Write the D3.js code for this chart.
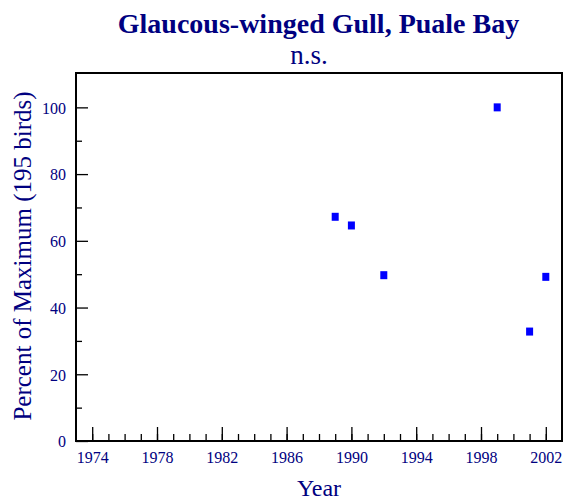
<!DOCTYPE html>
<html>
<head>
<meta charset="utf-8">
<script src="https://cdn.jsdelivr.net/npm/d3@7/dist/d3.min.js"></script>
<style>
  html, body { margin: 0; padding: 0; background: #fff; }
  svg { display: block; }
  text { font-family: "Liberation Serif", "Times New Roman", serif; fill: #000080; }
</style>
</head>
<body>
<svg id="chart" width="571" height="500"></svg>
<script>
// Survey counts, as percent of the maximum count (195 birds)
const years = [1989, 1990, 1992, 1999, 2001, 2002];
const percents = [67.2, 64.6, 49.7, 100, 32.8, 49.2];

const xMajorTicks = [1974, 1978, 1982, 1986, 1990, 1994, 1998, 2002];
const yMajorTicks = [0, 20, 40, 60, 80, 100];

const titleText = "Glaucous-winged Gull, Puale Bay";
const subtitleText = "n.s.";
const xLabel = "Year";
const yLabel = "Percent of Maximum (195 birds)";

const svg = d3.select("#chart");
const plot = { left: 76, right: 562, top: 74, bottom: 441 };

const x = d3.scaleLinear().domain([1973, 2003]).range([plot.left, plot.right]);
const y = d3.scaleLinear().domain([0, 110]).range([plot.bottom, plot.top]);

// Bottom axis: yearly minor ticks, labelled majors every four years (ticks point inward)
const xMinor = d3.range(1974, 2003);
svg.append("g")
  .attr("transform", `translate(0,${plot.bottom})`)
  .call(d3.axisBottom(x).tickValues(xMinor).tickSize(-7).tickFormat(""))
  .call(g => g.select(".domain").remove())
  .call(g => g.selectAll("line").attr("stroke", "#000").attr("stroke-width", 1.3));
const xAxis = svg.append("g")
  .attr("transform", `translate(0,${plot.bottom})`)
  .call(d3.axisBottom(x).tickValues(xMajorTicks).tickSize(-14).tickPadding(0).tickFormat(d3.format("d")))
  .call(g => g.select(".domain").remove());
xAxis.selectAll("line").attr("stroke", "#000").attr("stroke-width", 1.3);
xAxis.selectAll("text")
  .attr("y", 22).attr("dy", 0)
  .style("font-size", "16px").style("fill", "#000080")
  .style("font-family", "Liberation Serif, serif");

// Left axis: minor ticks every 10, labelled majors every 20
const yMinor = d3.range(10, 110, 20);
svg.append("g")
  .attr("transform", `translate(${plot.left},0)`)
  .call(d3.axisLeft(y).tickValues(yMinor).tickSize(-6).tickFormat(""))
  .call(g => g.select(".domain").remove())
  .call(g => g.selectAll("line").attr("stroke", "#000").attr("stroke-width", 1.3));
const yAxis = svg.append("g")
  .attr("transform", `translate(${plot.left},0)`)
  .call(d3.axisLeft(y).tickValues(yMajorTicks).tickSize(-12).tickPadding(0).tickFormat(d3.format("d")))
  .call(g => g.select(".domain").remove());
yAxis.selectAll("line").attr("stroke", "#000").attr("stroke-width", 1.3);
yAxis.selectAll("text")
  .attr("x", -10).attr("dy", "0.36em")
  .style("font-size", "16px").style("fill", "#000080")
  .style("font-family", "Liberation Serif, serif");

// Plot frame
svg.append("rect")
  .attr("x", plot.left).attr("y", plot.top - 1)
  .attr("width", plot.right - plot.left).attr("height", plot.bottom - plot.top + 1)
  .attr("fill", "none").attr("stroke", "#000").attr("stroke-width", 2);

// Data markers
const data = years.map((yr, i) => ({ year: yr, pct: percents[i] }));
const mw = 7, mh = 8;
svg.append("g").selectAll("rect")
  .data(data).join("rect")
  .attr("x", d => x(d.year) - mw / 2)
  .attr("y", d => y(d.pct) - mh / 2)
  .attr("width", mw).attr("height", mh)
  .attr("fill", "#0000ff");

// Titles and axis labels
svg.append("text").attr("x", 318.5).attr("y", 33)
  .attr("text-anchor", "middle")
  .style("font-size", "28px").style("font-weight", "bold")
  .text(titleText);
svg.append("text").attr("x", 309).attr("y", 64)
  .attr("text-anchor", "middle")
  .style("font-size", "27px")
  .text(subtitleText);
svg.append("text").attr("x", 319).attr("y", 496)
  .attr("text-anchor", "middle")
  .style("font-size", "24px")
  .text(xLabel);
svg.append("text")
  .attr("transform", "translate(31,256) rotate(-90)")
  .attr("text-anchor", "middle")
  .style("font-size", "25px")
  .text(yLabel);
</script>
</body>
</html>
